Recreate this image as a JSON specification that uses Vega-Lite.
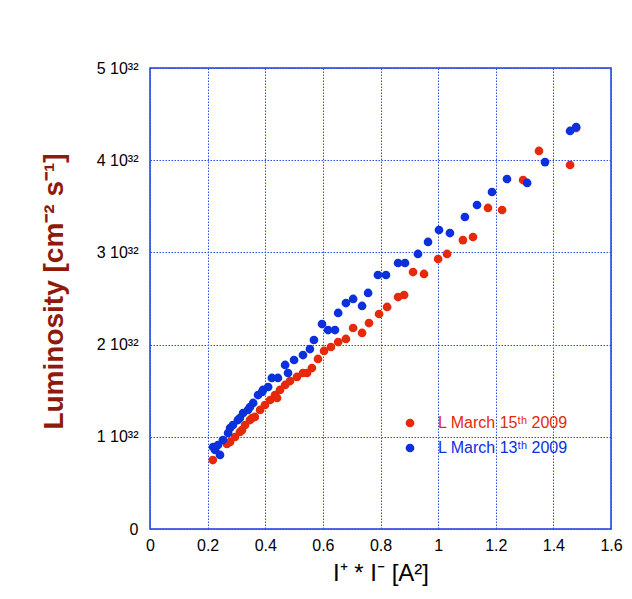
{
  "$schema": "https://vega.github.io/schema/vega-lite/v6.json",
  "width": 461,
  "height": 461,
  "autosize": {"type": "none"},
  "padding": {"left": 150, "top": 68, "right": 21, "bottom": 70},
  "background": "white",
  "config": {
    "font": "Liberation Sans",
    "view": {"stroke": "#1a3de0", "strokeWidth": 1.5}
  },
  "data": {
    "values": [
      {"series": "L March 15ᵗʰ 2009", "I": 0.218, "L": 0.748e32},
      {"series": "L March 15ᵗʰ 2009", "I": 0.267, "L": 0.922e32},
      {"series": "L March 15ᵗʰ 2009", "I": 0.278, "L": 0.944e32},
      {"series": "L March 15ᵗʰ 2009", "I": 0.295, "L": 0.998e32},
      {"series": "L March 15ᵗʰ 2009", "I": 0.312, "L": 1.052e32},
      {"series": "L March 15ᵗʰ 2009", "I": 0.319, "L": 1.072e32},
      {"series": "L March 15ᵗʰ 2009", "I": 0.330, "L": 1.128e32},
      {"series": "L March 15ᵗʰ 2009", "I": 0.347, "L": 1.182e32},
      {"series": "L March 15ᵗʰ 2009", "I": 0.354, "L": 1.204e32},
      {"series": "L March 15ᵗʰ 2009", "I": 0.364, "L": 1.215e32},
      {"series": "L March 15ᵗʰ 2009", "I": 0.382, "L": 1.291e32},
      {"series": "L March 15ᵗʰ 2009", "I": 0.399, "L": 1.345e32},
      {"series": "L March 15ᵗʰ 2009", "I": 0.417, "L": 1.399e32},
      {"series": "L March 15ᵗʰ 2009", "I": 0.434, "L": 1.453e32},
      {"series": "L March 15ᵗʰ 2009", "I": 0.441, "L": 1.421e32},
      {"series": "L March 15ᵗʰ 2009", "I": 0.451, "L": 1.508e32},
      {"series": "L March 15ᵗʰ 2009", "I": 0.469, "L": 1.562e32},
      {"series": "L March 15ᵗʰ 2009", "I": 0.486, "L": 1.605e32},
      {"series": "L March 15ᵗʰ 2009", "I": 0.510, "L": 1.649e32},
      {"series": "L March 15ᵗʰ 2009", "I": 0.531, "L": 1.692e32},
      {"series": "L March 15ᵗʰ 2009", "I": 0.545, "L": 1.692e32},
      {"series": "L March 15ᵗʰ 2009", "I": 0.562, "L": 1.746e32},
      {"series": "L March 15ᵗʰ 2009", "I": 0.583, "L": 1.844e32},
      {"series": "L March 15ᵗʰ 2009", "I": 0.604, "L": 1.931e32},
      {"series": "L March 15ᵗʰ 2009", "I": 0.628, "L": 1.974e32},
      {"series": "L March 15ᵗʰ 2009", "I": 0.653, "L": 2.028e32},
      {"series": "L March 15ᵗʰ 2009", "I": 0.680, "L": 2.061e32},
      {"series": "L March 15ᵗʰ 2009", "I": 0.705, "L": 2.180e32},
      {"series": "L March 15ᵗʰ 2009", "I": 0.736, "L": 2.126e32},
      {"series": "L March 15ᵗʰ 2009", "I": 0.760, "L": 2.234e32},
      {"series": "L March 15ᵗʰ 2009", "I": 0.795, "L": 2.332e32},
      {"series": "L March 15ᵗʰ 2009", "I": 0.823, "L": 2.408e32},
      {"series": "L March 15ᵗʰ 2009", "I": 0.861, "L": 2.516e32},
      {"series": "L March 15ᵗʰ 2009", "I": 0.882, "L": 2.538e32},
      {"series": "L March 15ᵗʰ 2009", "I": 0.913, "L": 2.787e32},
      {"series": "L March 15ᵗʰ 2009", "I": 0.951, "L": 2.766e32},
      {"series": "L March 15ᵗʰ 2009", "I": 1.000, "L": 2.928e32},
      {"series": "L March 15ᵗʰ 2009", "I": 1.031, "L": 2.983e32},
      {"series": "L March 15ᵗʰ 2009", "I": 1.086, "L": 3.134e32},
      {"series": "L March 15ᵗʰ 2009", "I": 1.121, "L": 3.167e32},
      {"series": "L March 15ᵗʰ 2009", "I": 1.173, "L": 3.482e32},
      {"series": "L March 15ᵗʰ 2009", "I": 1.222, "L": 3.460e32},
      {"series": "L March 15ᵗʰ 2009", "I": 1.295, "L": 3.785e32},
      {"series": "L March 15ᵗʰ 2009", "I": 1.350, "L": 4.100e32},
      {"series": "L March 15ᵗʰ 2009", "I": 1.458, "L": 3.948e32},
      {"series": "L March 15ᵗʰ 2009", "I": 1.479, "L": 4.349e32},
      {"series": "L March 13ᵗʰ  2009", "I": 0.219, "L": 0.889e32},
      {"series": "L March 13ᵗʰ  2009", "I": 0.226, "L": 0.857e32},
      {"series": "L March 13ᵗʰ  2009", "I": 0.243, "L": 0.803e32},
      {"series": "L March 13ᵗʰ  2009", "I": 0.236, "L": 0.911e32},
      {"series": "L March 13ᵗʰ  2009", "I": 0.253, "L": 0.965e32},
      {"series": "L March 13ᵗʰ  2009", "I": 0.271, "L": 1.041e32},
      {"series": "L March 13ᵗʰ  2009", "I": 0.278, "L": 1.095e32},
      {"series": "L March 13ᵗʰ  2009", "I": 0.288, "L": 1.128e32},
      {"series": "L March 13ᵗʰ  2009", "I": 0.305, "L": 1.182e32},
      {"series": "L March 13ᵗʰ  2009", "I": 0.312, "L": 1.204e32},
      {"series": "L March 13ᵗʰ  2009", "I": 0.323, "L": 1.258e32},
      {"series": "L March 13ᵗʰ  2009", "I": 0.340, "L": 1.291e32},
      {"series": "L March 13ᵗʰ  2009", "I": 0.347, "L": 1.323e32},
      {"series": "L March 13ᵗʰ  2009", "I": 0.358, "L": 1.367e32},
      {"series": "L March 13ᵗʰ  2009", "I": 0.375, "L": 1.453e32},
      {"series": "L March 13ᵗʰ  2009", "I": 0.389, "L": 1.486e32},
      {"series": "L March 13ᵗʰ  2009", "I": 0.392, "L": 1.508e32},
      {"series": "L March 13ᵗʰ  2009", "I": 0.410, "L": 1.540e32},
      {"series": "L March 13ᵗʰ  2009", "I": 0.423, "L": 1.638e32},
      {"series": "L March 13ᵗʰ  2009", "I": 0.444, "L": 1.638e32},
      {"series": "L March 13ᵗʰ  2009", "I": 0.469, "L": 1.779e32},
      {"series": "L March 13ᵗʰ  2009", "I": 0.479, "L": 1.692e32},
      {"series": "L March 13ᵗʰ  2009", "I": 0.500, "L": 1.833e32},
      {"series": "L March 13ᵗʰ  2009", "I": 0.531, "L": 1.887e32},
      {"series": "L March 13ᵗʰ  2009", "I": 0.555, "L": 1.952e32},
      {"series": "L March 13ᵗʰ  2009", "I": 0.569, "L": 2.050e32},
      {"series": "L March 13ᵗʰ  2009", "I": 0.597, "L": 2.223e32},
      {"series": "L March 13ᵗʰ  2009", "I": 0.618, "L": 2.158e32},
      {"series": "L March 13ᵗʰ  2009", "I": 0.642, "L": 2.158e32},
      {"series": "L March 13ᵗʰ  2009", "I": 0.653, "L": 2.343e32},
      {"series": "L March 13ᵗʰ  2009", "I": 0.680, "L": 2.451e32},
      {"series": "L March 13ᵗʰ  2009", "I": 0.705, "L": 2.495e32},
      {"series": "L March 13ᵗʰ  2009", "I": 0.736, "L": 2.419e32},
      {"series": "L March 13ᵗʰ  2009", "I": 0.757, "L": 2.560e32},
      {"series": "L March 13ᵗʰ  2009", "I": 0.791, "L": 2.755e32},
      {"series": "L March 13ᵗʰ  2009", "I": 0.819, "L": 2.755e32},
      {"series": "L March 13ᵗʰ  2009", "I": 0.861, "L": 2.885e32},
      {"series": "L March 13ᵗʰ  2009", "I": 0.885, "L": 2.885e32},
      {"series": "L March 13ᵗʰ  2009", "I": 0.930, "L": 2.983e32},
      {"series": "L March 13ᵗʰ  2009", "I": 0.965, "L": 3.113e32},
      {"series": "L March 13ᵗʰ  2009", "I": 1.003, "L": 3.243e32},
      {"series": "L March 13ᵗʰ  2009", "I": 1.041, "L": 3.210e32},
      {"series": "L March 13ᵗʰ  2009", "I": 1.093, "L": 3.384e32},
      {"series": "L March 13ᵗʰ  2009", "I": 1.135, "L": 3.514e32},
      {"series": "L March 13ᵗʰ  2009", "I": 1.187, "L": 3.655e32},
      {"series": "L March 13ᵗʰ  2009", "I": 1.239, "L": 3.796e32},
      {"series": "L March 13ᵗʰ  2009", "I": 1.309, "L": 3.753e32},
      {"series": "L March 13ᵗʰ  2009", "I": 1.371, "L": 3.980e32},
      {"series": "L March 13ᵗʰ  2009", "I": 1.458, "L": 4.317e32},
      {"series": "L March 13ᵗʰ  2009", "I": 1.479, "L": 4.360e32}
    ]
  },
  "mark": {"type": "circle", "size": 76, "opacity": 1},
  "encoding": {
    "x": {
      "field": "I",
      "type": "quantitative",
      "scale": {"domain": [0, 1.6], "nice": false, "zero": false},
      "axis": {
        "title": "I⁺ * I⁻ [A²]",
        "values": [0, 0.2, 0.4, 0.6, 0.8, 1, 1.2, 1.4, 1.6],
        "format": ".1~f",
        "domain": false,
        "ticks": false,
        "grid": true,
        "gridColor": "#2b4de8",
        "gridDash": [1.5, 1.5],
        "gridWidth": 1,
        "labelFontSize": 16,
        "labelColor": "black",
        "labelPadding": 8,
        "labelFlush": false,
        "titleFontSize": 24,
        "titleFontWeight": "normal",
        "titleColor": "black",
        "titlePadding": 8
      }
    },
    "y": {
      "field": "L",
      "type": "quantitative",
      "scale": {"domain": [0, 5e32], "nice": false, "zero": false},
      "axis": {
        "title": "Luminosity  [cm⁻² s⁻¹]",
        "values": [0, 1e32, 2e32, 3e32, 4e32, 5e32],
        "labelExpr": "datum.value == 0 ? '0' : format(datum.value / 1e32, 'd') + ' 10³²'",
        "domain": false,
        "ticks": false,
        "grid": true,
        "gridColor": "#2b4de8",
        "gridDash": [1.5, 1.5],
        "gridWidth": 1,
        "labelFontSize": 16,
        "labelColor": "black",
        "labelPadding": 12,
        "labelFlush": false,
        "titleFontSize": 28,
        "titleFontWeight": "bold",
        "titleColor": "#8f1a0b",
        "titlePadding": 28,
        "titleY": 223
      }
    },
    "color": {
      "field": "series",
      "type": "nominal",
      "scale": {
        "domain": ["L March 15ᵗʰ 2009", "L March 13ᵗʰ  2009"],
        "range": ["#e5290b", "#0b30dc"]
      },
      "legend": {
        "orient": "none",
        "legendX": 252,
        "legendY": 347,
        "title": null,
        "labelFontSize": 16,
        "symbolSize": 76,
        "symbolType": "circle",
        "rowPadding": 9,
        "labelOffset": 20,
        "labelColor": {"expr": "datum.value == 'L March 15ᵗʰ 2009' ? '#e5290b' : '#0b30dc'"}
      }
    }
  }
}
